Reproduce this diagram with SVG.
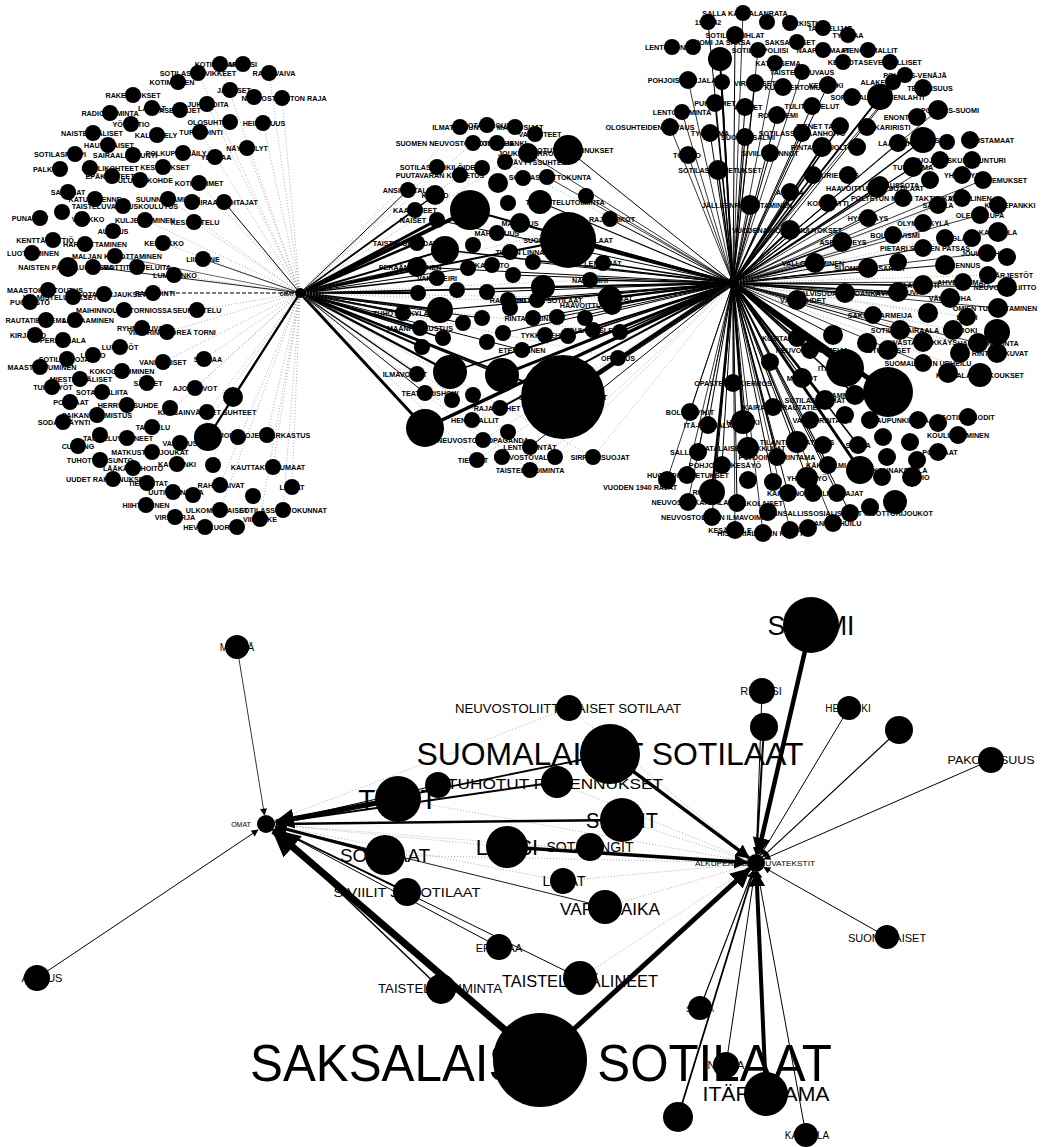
<svg xmlns="http://www.w3.org/2000/svg" width="1042" height="1147" viewBox="0 0 1042 1147">
<style>
text{font-family:"Liberation Sans",Arial,sans-serif;fill:#000;text-anchor:middle}
.s text{font-size:7.2px;font-weight:bold}
circle{fill:#000}
.e line{stroke:#000;fill:none}
.e line.d{stroke:#777;stroke-width:.6;stroke-dasharray:1 2}
</style>
<defs>
<marker id="a" viewBox="0 0 10 10" refX="9" refY="5" markerWidth="4" markerHeight="4" orient="auto" markerUnits="strokeWidth"><path d="M0,0L10,5L0,10z"/></marker>
<marker id="as" viewBox="0 0 10 10" refX="9" refY="5" markerWidth="9" markerHeight="7" orient="auto" markerUnits="userSpaceOnUse"><path d="M0,0L10,5L0,10z"/></marker>
</defs>
<rect width="1042" height="1147" fill="#fff"/>
<g class="e" id="connectors-top">
<line class="d" x1="300" y1="293" x2="220" y2="64"/><line class="d" x1="300" y1="293" x2="198" y2="73"/><line class="d" x1="300" y1="293" x2="282" y2="98"/><line class="d" x1="300" y1="293" x2="207" y2="104"/><line class="d" x1="300" y1="293" x2="200" y2="132"/><line class="d" x1="300" y1="293" x2="247" y2="148"/><line class="d" x1="300" y1="293" x2="199" y2="183"/><line class="d" x1="300" y1="293" x2="168" y2="199"/><line class="d" x1="300" y1="293" x2="194" y2="222"/><line class="d" x1="300" y1="293" x2="163" y2="243"/><line class="d" x1="300" y1="293" x2="174" y2="275"/><line class="d" x1="300" y1="293" x2="197" y2="310"/><line class="d" x1="300" y1="293" x2="167" y2="332"/><line class="d" x1="300" y1="293" x2="163" y2="362"/><line class="d" x1="300" y1="293" x2="204" y2="359"/><line class="d" x1="300" y1="293" x2="195" y2="388"/><line class="d" x1="300" y1="293" x2="207" y2="412"/><line class="d" x1="300" y1="293" x2="267" y2="435"/><line class="d" x1="300" y1="293" x2="177" y2="464"/><line class="d" x1="300" y1="293" x2="273" y2="467"/><line class="d" x1="300" y1="293" x2="220" y2="485"/><line class="d" x1="300" y1="293" x2="292" y2="487"/><line class="d" x1="300" y1="293" x2="283" y2="510"/><line class="d" x1="300" y1="293" x2="260" y2="519"/><line class="d" x1="300" y1="293" x2="220" y2="510"/><line class="d" x1="300" y1="293" x2="263" y2="123"/><line class="d" x1="300" y1="293" x2="269" y2="73"/><line class="d" x1="300" y1="293" x2="145" y2="220"/><line class="d" x1="300" y1="293" x2="152" y2="427"/>
<line x1="300" y1="293" x2="224" y2="202" stroke-width="1"/><line x1="300" y1="293" x2="203" y2="259" stroke-width=".8"/><line x1="300" y1="293" x2="93" y2="267" stroke-width=".9"/><line x1="300" y1="293" x2="153" y2="293" stroke-width="1" stroke-dasharray="4 2"/><line x1="300" y1="293" x2="233" y2="397" stroke-width="1.5"/><line x1="300" y1="293" x2="208" y2="437" stroke-width="2.2"/><line x1="300" y1="293" x2="115" y2="256" stroke-width=".6"/>
<line x1="300" y1="293" x2="470" y2="210" stroke-width="4"/><line x1="300" y1="293" x2="415" y2="210" stroke-width="1.5"/><line x1="300" y1="293" x2="437" y2="220" stroke-width="3"/><line x1="300" y1="293" x2="408" y2="190" stroke-width="1"/><line x1="300" y1="293" x2="417" y2="243" stroke-width="2.5"/><line x1="300" y1="293" x2="445" y2="250" stroke-width="2"/><line x1="300" y1="293" x2="417" y2="267" stroke-width="3"/><line x1="300" y1="293" x2="437" y2="278" stroke-width="1.5"/><line x1="300" y1="293" x2="418" y2="293" stroke-width="2"/><line x1="300" y1="293" x2="457" y2="290" stroke-width="1"/><line x1="300" y1="293" x2="403" y2="313" stroke-width="2"/><line x1="300" y1="293" x2="440" y2="310" stroke-width="2.5"/><line x1="300" y1="293" x2="420" y2="328" stroke-width="2.5"/><line x1="300" y1="293" x2="443" y2="338" stroke-width="1.5"/><line x1="300" y1="293" x2="422" y2="347" stroke-width="2"/><line x1="300" y1="293" x2="417" y2="374" stroke-width="1.5"/><line x1="300" y1="293" x2="450" y2="372" stroke-width="2.5"/><line x1="300" y1="293" x2="425" y2="428" stroke-width="3"/><line x1="300" y1="293" x2="425" y2="393" stroke-width="1"/><line x1="300" y1="293" x2="568" y2="240" stroke-width="2"/><line x1="300" y1="293" x2="563" y2="397" stroke-width="2"/><line x1="300" y1="293" x2="502" y2="375" stroke-width="1.5"/><line x1="300" y1="293" x2="435" y2="195" stroke-width="1.5"/><line x1="300" y1="293" x2="468" y2="268" stroke-width="1"/><line x1="300" y1="293" x2="482" y2="318" stroke-width="1"/><line x1="300" y1="293" x2="463" y2="323" stroke-width="1"/><line x1="300" y1="293" x2="522" y2="350" stroke-width="1"/><line x1="300" y1="293" x2="733" y2="283" stroke-width="1.5"/>
<line class="d" x1="300" y1="293" x2="460" y2="127"/><line class="d" x1="300" y1="293" x2="473" y2="143"/><line class="d" x1="300" y1="293" x2="437" y2="167"/><line class="d" x1="300" y1="293" x2="460" y2="175"/><line class="d" x1="300" y1="293" x2="505" y2="162"/><line class="d" x1="300" y1="293" x2="610" y2="219"/><line class="d" x1="300" y1="293" x2="590" y2="280"/><line class="d" x1="300" y1="293" x2="610" y2="298"/><line class="d" x1="300" y1="293" x2="612" y2="305"/><line class="d" x1="300" y1="293" x2="593" y2="330"/><line class="d" x1="300" y1="293" x2="618" y2="358"/><line class="d" x1="300" y1="293" x2="483" y2="440"/><line class="d" x1="300" y1="293" x2="477" y2="460"/><line class="d" x1="300" y1="293" x2="530" y2="470"/><line class="d" x1="300" y1="293" x2="593" y2="457"/><line class="d" x1="300" y1="293" x2="530" y2="447"/>
<line x1="733" y1="283" x2="568" y2="150" stroke-width="1"/><line x1="733" y1="283" x2="547" y2="177" stroke-width=".8"/><line x1="733" y1="283" x2="540" y2="202" stroke-width="1.2"/><line x1="733" y1="283" x2="586" y2="196" stroke-width=".8"/><line x1="733" y1="283" x2="568" y2="240" stroke-width="3"/><line x1="733" y1="283" x2="610" y2="219" stroke-width="1"/><line x1="733" y1="283" x2="603" y2="263" stroke-width="1.5"/><line x1="733" y1="283" x2="590" y2="280" stroke-width="1.5"/><line x1="733" y1="283" x2="610" y2="298" stroke-width="2.5"/><line x1="733" y1="283" x2="612" y2="305" stroke-width="2"/><line x1="733" y1="283" x2="620" y2="332" stroke-width="1.5"/><line x1="733" y1="283" x2="618" y2="358" stroke-width="2"/><line x1="733" y1="283" x2="593" y2="330" stroke-width="1.5"/><line x1="733" y1="283" x2="585" y2="318" stroke-width="1"/><line x1="733" y1="283" x2="557" y2="317" stroke-width="1"/><line x1="733" y1="283" x2="568" y2="336" stroke-width="1"/><line x1="733" y1="283" x2="563" y2="397" stroke-width="5"/><line x1="733" y1="283" x2="502" y2="375" stroke-width="3"/><line x1="733" y1="283" x2="425" y2="428" stroke-width="3.5"/><line x1="733" y1="283" x2="450" y2="372" stroke-width="1.5"/><line x1="733" y1="283" x2="470" y2="210" stroke-width="2"/><line x1="733" y1="283" x2="543" y2="287" stroke-width="2"/><line x1="733" y1="283" x2="533" y2="262" stroke-width="1"/><line x1="733" y1="283" x2="508" y2="300" stroke-width="1"/><line x1="733" y1="283" x2="537" y2="300" stroke-width="1.5"/><line x1="733" y1="283" x2="533" y2="318" stroke-width="1"/><line x1="733" y1="283" x2="503" y2="333" stroke-width="1"/><line x1="733" y1="283" x2="522" y2="350" stroke-width="1.5"/><line x1="733" y1="283" x2="500" y2="408" stroke-width="2"/><line x1="733" y1="283" x2="530" y2="447" stroke-width="1"/><line x1="733" y1="283" x2="520" y2="223" stroke-width="1"/><line x1="733" y1="283" x2="528" y2="153" stroke-width=".8"/><line x1="733" y1="283" x2="487" y2="292" stroke-width="1.2"/><line x1="733" y1="283" x2="513" y2="275" stroke-width="1"/><line x1="733" y1="283" x2="445" y2="250" stroke-width="1.5"/><line x1="733" y1="283" x2="440" y2="310" stroke-width="1.2"/><line x1="733" y1="283" x2="417" y2="267" stroke-width="1"/><line x1="733" y1="283" x2="437" y2="220" stroke-width="1"/>
<line class="d" x1="733" y1="283" x2="593" y2="457"/><line class="d" x1="733" y1="283" x2="530" y2="470"/><line class="d" x1="733" y1="283" x2="555" y2="457"/><line class="d" x1="733" y1="283" x2="483" y2="440"/><line class="d" x1="733" y1="283" x2="505" y2="162"/><line class="d" x1="733" y1="283" x2="477" y2="460"/>
<line x1="733" y1="283" x2="708" y2="22" stroke-width="1"/><line x1="733" y1="283" x2="743" y2="13" stroke-width=".8"/><line x1="733" y1="283" x2="735" y2="35" stroke-width="1"/><line x1="733" y1="283" x2="720" y2="59" stroke-width="2"/><line x1="733" y1="283" x2="758" y2="50" stroke-width=".8"/><line x1="733" y1="283" x2="688" y2="80" stroke-width=".8"/><line x1="733" y1="283" x2="722" y2="82" stroke-width="1"/><line x1="733" y1="283" x2="715" y2="103" stroke-width="1.2"/><line x1="733" y1="283" x2="682" y2="112" stroke-width=".8"/><line x1="733" y1="283" x2="670" y2="127" stroke-width=".8"/><line x1="733" y1="283" x2="710" y2="133" stroke-width="1"/><line x1="733" y1="283" x2="745" y2="137" stroke-width="1.2"/><line x1="733" y1="283" x2="688" y2="155" stroke-width=".8"/><line x1="733" y1="283" x2="718" y2="170" stroke-width="1.5"/><line x1="733" y1="283" x2="777" y2="115" stroke-width="1"/><line x1="733" y1="283" x2="745" y2="107" stroke-width="1"/><line x1="733" y1="283" x2="775" y2="63" stroke-width=".8"/><line x1="733" y1="283" x2="755" y2="83" stroke-width="1"/><line x1="733" y1="283" x2="880" y2="97" stroke-width="2"/><line x1="737" y1="285" x2="885" y2="101" stroke-width="1"/><line x1="733" y1="283" x2="802" y2="72" stroke-width=".8"/><line x1="733" y1="283" x2="828" y2="85" stroke-width="1"/><line x1="733" y1="283" x2="840" y2="126" stroke-width="1.5"/><line x1="733" y1="283" x2="822" y2="147" stroke-width="2"/><line x1="733" y1="283" x2="898" y2="143" stroke-width="1"/><line x1="733" y1="283" x2="913" y2="167" stroke-width="1.2"/><line x1="733" y1="283" x2="905" y2="75" stroke-width=".8"/><line x1="733" y1="283" x2="938" y2="110" stroke-width=".8"/><line x1="733" y1="283" x2="812" y2="106" stroke-width="1"/><line x1="733" y1="283" x2="802" y2="133" stroke-width="1"/><line x1="733" y1="283" x2="770" y2="153" stroke-width="1"/><line x1="733" y1="283" x2="813" y2="175" stroke-width="1.5"/><line x1="733" y1="283" x2="923" y2="140" stroke-width="1.5"/><line x1="733" y1="283" x2="880" y2="185" stroke-width="1"/>
<line x1="733" y1="283" x2="790" y2="192" stroke-width="1"/><line x1="733" y1="283" x2="877" y2="188" stroke-width="1.2"/><line x1="733" y1="283" x2="903" y2="198" stroke-width="1"/><line x1="733" y1="283" x2="750" y2="205" stroke-width="1.2"/><line x1="733" y1="283" x2="828" y2="203" stroke-width="1"/><line x1="733" y1="283" x2="868" y2="218" stroke-width=".8"/><line x1="733" y1="283" x2="790" y2="230" stroke-width="2"/><line x1="733" y1="283" x2="842" y2="242" stroke-width="1.5"/><line x1="733" y1="283" x2="893" y2="235" stroke-width=".8"/><line x1="733" y1="283" x2="923" y2="248" stroke-width="1"/><line x1="733" y1="283" x2="815" y2="263" stroke-width="2"/><line x1="733" y1="283" x2="868" y2="268" stroke-width="1.5"/><line x1="733" y1="283" x2="963" y2="282" stroke-width=".8"/><line x1="733" y1="283" x2="1007" y2="287" stroke-width="1"/><line x1="733" y1="283" x2="923" y2="285" stroke-width="1"/><line x1="733" y1="283" x2="898" y2="292" stroke-width="1.5"/><line x1="733" y1="283" x2="845" y2="293" stroke-width="1.5"/><line x1="733" y1="283" x2="797" y2="300" stroke-width="1.5"/><line x1="733" y1="283" x2="950" y2="298" stroke-width=".8"/><line x1="733" y1="283" x2="998" y2="308" stroke-width=".8"/><line x1="733" y1="283" x2="873" y2="315" stroke-width="1"/><line x1="733" y1="283" x2="900" y2="330" stroke-width="1"/><line x1="733" y1="283" x2="797" y2="338" stroke-width="1.5"/><line x1="733" y1="283" x2="833" y2="335" stroke-width="1"/><line x1="733" y1="283" x2="810" y2="350" stroke-width="1.5"/><line x1="733" y1="283" x2="980" y2="215" stroke-width=".8"/><line x1="733" y1="283" x2="987" y2="253" stroke-width=".8"/><line x1="733" y1="283" x2="945" y2="265" stroke-width="1"/><line x1="733" y1="283" x2="938" y2="205" stroke-width=".8"/><line x1="733" y1="283" x2="940" y2="160" stroke-width=".8"/><line x1="733" y1="283" x2="983" y2="180" stroke-width=".8"/><line x1="733" y1="283" x2="978" y2="343" stroke-width=".8"/><line x1="733" y1="283" x2="923" y2="363" stroke-width=".8"/><line x1="733" y1="283" x2="923" y2="342" stroke-width=".8"/>
<line class="d" x1="733" y1="283" x2="998" y2="232"/><line class="d" x1="733" y1="283" x2="945" y2="238"/><line class="d" x1="733" y1="283" x2="923" y2="223"/><line class="d" x1="733" y1="283" x2="962" y2="198"/><line class="d" x1="733" y1="283" x2="998" y2="205"/><line class="d" x1="733" y1="283" x2="988" y2="275"/><line class="d" x1="733" y1="283" x2="967" y2="317"/><line class="d" x1="733" y1="283" x2="953" y2="330"/><line class="d" x1="733" y1="283" x2="997" y2="353"/><line class="d" x1="733" y1="283" x2="980" y2="375"/><line class="d" x1="733" y1="283" x2="928" y2="313"/>
<line x1="733" y1="283" x2="845" y2="368" stroke-width="4"/><line x1="733" y1="283" x2="888" y2="392" stroke-width="5"/><line x1="733" y1="283" x2="860" y2="470" stroke-width="3"/><line x1="733" y1="283" x2="797" y2="442" stroke-width="1.5"/><line x1="733" y1="283" x2="825" y2="400" stroke-width="2"/><line x1="733" y1="283" x2="855" y2="395" stroke-width="1.5"/><line x1="733" y1="283" x2="802" y2="378" stroke-width="1.2"/><line x1="733" y1="283" x2="858" y2="445" stroke-width="1.5"/><line x1="733" y1="283" x2="828" y2="465" stroke-width="1.2"/>
<line x1="733" y1="283" x2="733" y2="383" stroke-width="1"/><line x1="733" y1="283" x2="773" y2="407" stroke-width="1.5"/><line x1="733" y1="283" x2="690" y2="412" stroke-width=".8"/><line x1="733" y1="283" x2="743" y2="422" stroke-width="2.5"/><line x1="733" y1="283" x2="708" y2="425" stroke-width="1"/><line x1="733" y1="283" x2="748" y2="448" stroke-width="1"/><line x1="733" y1="283" x2="698" y2="452" stroke-width=".8"/><line x1="733" y1="283" x2="777" y2="457" stroke-width="1.5"/><line x1="733" y1="283" x2="807" y2="478" stroke-width="1"/><line x1="733" y1="283" x2="722" y2="465" stroke-width="1"/><line x1="733" y1="283" x2="687" y2="475" stroke-width=".8"/><line x1="733" y1="283" x2="667" y2="480" stroke-width=".8"/><line x1="733" y1="283" x2="712" y2="492" stroke-width="2.5"/><line x1="733" y1="283" x2="788" y2="493" stroke-width="1"/><line x1="733" y1="283" x2="837" y2="493" stroke-width="1"/><line x1="733" y1="283" x2="688" y2="502" stroke-width=".8"/><line x1="733" y1="283" x2="850" y2="513" stroke-width="1"/><line x1="733" y1="283" x2="712" y2="517" stroke-width="1"/><line x1="733" y1="283" x2="763" y2="533" stroke-width=".8"/><line x1="733" y1="283" x2="833" y2="523" stroke-width=".8"/><line x1="733" y1="283" x2="773" y2="482" stroke-width="1"/><line x1="733" y1="283" x2="737" y2="503" stroke-width="1"/><line x1="733" y1="283" x2="735" y2="530" stroke-width=".8"/><line x1="733" y1="283" x2="790" y2="530" stroke-width=".8"/>
</g>
<g class="e" id="connectors-bottom">
<line class="d" x1="569" y1="708" x2="266" y2="824"/><line class="d" x1="266" y1="824" x2="756" y2="863"/><line class="d" x1="563" y1="881" x2="266" y2="824"/><line class="d" x1="507" y1="847" x2="266" y2="824"/><line class="d" x1="622" y1="820" x2="756" y2="863"/><line class="d" x1="569" y1="708" x2="756" y2="863"/><line class="d" x1="557" y1="782" x2="756" y2="863"/><line class="d" x1="563" y1="881" x2="756" y2="863"/><line class="d" x1="605" y1="907" x2="756" y2="863"/><line class="d" x1="580" y1="978" x2="756" y2="863"/><line class="d" x1="398" y1="799" x2="756" y2="863"/><line class="d" x1="385" y1="855" x2="756" y2="863"/>
<line x1="37" y1="978" x2="258" y2="830" stroke-width="1" marker-end="url(#as)"/>
<line x1="237" y1="647" x2="264.5" y2="815" stroke-width=".8" marker-end="url(#as)"/>
<line x1="398" y1="799" x2="276" y2="822" stroke-width="5" marker-end="url(#a)"/>
<line x1="622" y1="820" x2="276" y2="824" stroke-width="2.5" marker-end="url(#a)"/>
<line x1="385" y1="855" x2="276" y2="826.5" stroke-width="3" marker-end="url(#a)"/>
<line x1="557" y1="782" x2="276" y2="822.6" stroke-width="2" marker-end="url(#a)"/>
<line x1="610" y1="754" x2="276" y2="822" stroke-width="1.8"/>
<line x1="407" y1="892" x2="275" y2="828" stroke-width="1.5"/>
<line x1="499" y1="947" x2="275" y2="828" stroke-width="1"/>
<line x1="580" y1="978" x2="275" y2="828" stroke-width="1"/>
<line x1="605" y1="907" x2="275" y2="826" stroke-width=".9"/>
<line x1="441" y1="989" x2="274" y2="829" stroke-width="1.5"/>
<line x1="438" y1="785" x2="276" y2="822" stroke-width="1.2"/>
<line x1="540" y1="1060" x2="273.6" y2="830.5" stroke-width="7" marker-end="url(#a)"/>
<line x1="811" y1="625" x2="758" y2="854" stroke-width="4.5" marker-end="url(#a)"/>
<line x1="762" y1="691" x2="756.3" y2="854" stroke-width="1" marker-end="url(#as)"/>
<line x1="764" y1="727" x2="756.5" y2="854" stroke-width="2" marker-end="url(#a)"/>
<line x1="849" y1="708" x2="760.6" y2="855.3" stroke-width="1" marker-end="url(#as)"/>
<line x1="899" y1="730" x2="762.6" y2="856.9" stroke-width="1.2" marker-end="url(#as)"/>
<line x1="991" y1="760" x2="764" y2="859" stroke-width="1" marker-end="url(#as)"/>
<line x1="887" y1="937" x2="763.9" y2="867.4" stroke-width="1" marker-end="url(#as)"/>
<line x1="610" y1="754" x2="748.7" y2="857.7" stroke-width="3.5" marker-end="url(#a)"/>
<line x1="540" y1="1060" x2="749.3" y2="869" stroke-width="5" marker-end="url(#a)"/>
<line x1="507" y1="847" x2="747" y2="862.4" stroke-width="3.5" marker-end="url(#a)"/>
<line x1="700" y1="1008" x2="752.7" y2="871.4" stroke-width="1.2" marker-end="url(#as)"/>
<line x1="678" y1="1117" x2="753.4" y2="871.6" stroke-width="1.8" marker-end="url(#a)"/>
<line x1="726" y1="1065" x2="754.7" y2="871.9" stroke-width="1" marker-end="url(#as)"/>
<line x1="766" y1="1094" x2="756.4" y2="872" stroke-width="4" marker-end="url(#a)"/>
<line x1="806" y1="1135" x2="757.6" y2="871.8" stroke-width="1" marker-end="url(#as)"/>
</g>
<g class="s" id="nodes-left">
<g id="L1"><text x="220" y="67">KOTIKASARMI</text><circle cx="220" cy="64" r="8"/></g>
<g id="L2"><text x="243" y="67">MARSSI</text><circle cx="243" cy="64" r="8"/></g>
<g id="L3"><text x="274" y="76">RAHTIVAIVA</text><circle cx="269" cy="73" r="8"/></g>
<g id="L4"><text x="198" y="76">SOTILASTARVIKKEET</text><circle cx="198" cy="73" r="8"/></g>
<g id="L5"><text x="172" y="85">KOTIMAISEN</text><circle cx="178" cy="82" r="8"/></g>
<g id="L6"><text x="133" y="98">RAKENNUKSET</text><circle cx="133" cy="95" r="8"/></g>
<g id="L7"><text x="234" y="93">JAOKSET</text><circle cx="230" cy="90" r="8"/></g>
<g id="L8"><circle cx="254" cy="97" r="8"/></g>
<g id="L9"><text x="284" y="101">NEUVOSTOLIITON RAJA</text><circle cx="282" cy="98" r="8"/></g>
<g id="L10"><text x="110" y="116">RADIOTOIMINTA</text><circle cx="110" cy="113" r="8"/></g>
<g id="L11"><text x="152" y="111">LAHJAT</text><circle cx="152" cy="108" r="8"/></g>
<g id="L12"><text x="180" y="113">ASEVELJET</text><circle cx="180" cy="110" r="8"/></g>
<g id="L13"><text x="208" y="107">JUHLIJOITA</text><circle cx="207" cy="104" r="8"/></g>
<g id="L14"><text x="131" y="127">YÖVARTIO</text><circle cx="131" cy="124" r="8"/></g>
<g id="L15"><text x="212" y="125">OLOSUHTEET</text><circle cx="230" cy="122" r="8"/></g>
<g id="L16"><text x="264" y="126">HEINÄKUUS</text><circle cx="263" cy="123" r="8"/></g>
<g id="L17"><text x="92" y="136">NAISTENVÄLISET</text><circle cx="93" cy="133" r="8"/></g>
<g id="L18"><text x="156" y="138">KALASTELY</text><circle cx="157" cy="135" r="8"/></g>
<g id="L19"><text x="201" y="135">TUPAKOINTI</text><circle cx="200" cy="132" r="8"/></g>
<g id="L20"><text x="109" y="148">HAUTAJAISET</text><circle cx="108" cy="145" r="8"/></g>
<g id="L21"><text x="60" y="157">SOTILASPAPPI</text><circle cx="75" cy="154" r="8"/></g>
<g id="L22"><text x="125" y="158">SAIRAALAKAUNTI</text><circle cx="133" cy="155" r="8"/></g>
<g id="L23"><text x="176" y="156">POLKUPYÖRÄILY</text><circle cx="183" cy="153" r="8"/></g>
<g id="L24"><text x="216" y="160">YLÄMAA</text><circle cx="215" cy="157" r="8"/></g>
<g id="L25"><text x="247" y="151">NÄYTTELYT</text><circle cx="247" cy="148" r="8"/></g>
<g id="L26"><text x="49" y="172">PALKKIO</text><circle cx="60" cy="169" r="8"/></g>
<g id="L27"><text x="110" y="171">MAALIKOHTEET</text><circle cx="90" cy="168" r="8"/></g>
<g id="L28"><text x="110" y="179">EPÄKOHTEET</text><circle cx="112" cy="176" r="8"/></g>
<g id="L29"><text x="140" y="183">KOULUTUSKOHDE</text><circle cx="140" cy="180" r="8"/></g>
<g id="L30"><text x="165" y="170">KESTITYKSET</text><circle cx="163" cy="167" r="8"/></g>
<g id="L31"><text x="199" y="186">KOTIELÄIMET</text><circle cx="199" cy="183" r="8"/></g>
<g id="L32"><text x="68" y="195">SAARNAT</text><circle cx="68" cy="192" r="8"/></g>
<g id="L33"><text x="95" y="202">KATULIIKENNE</text><circle cx="95" cy="199" r="8"/></g>
<g id="L34"><text x="125" y="209">TAISTELUVALMIUSKOULUTUS</text><circle cx="123" cy="206" r="8"/></g>
<g id="L35"><text x="168" y="202">SUUNNISTAMINEN</text><circle cx="168" cy="199" r="8"/></g>
<g id="L36"><circle cx="192" cy="202" r="8"/></g>
<g id="L37"><text x="224" y="205">SAIRAANHOITAJAT</text><circle cx="224" cy="202" r="8"/></g>
<g id="L38"><text x="30" y="221">PUNAISET</text><circle cx="40" cy="218" r="8"/></g>
<g id="L39"><circle cx="62" cy="212" r="8"/></g>
<g id="L40"><text x="88" y="222">VARIKKO</text><circle cx="82" cy="219" r="8"/></g>
<g id="L41"><text x="145" y="223">KULJETTAMINEN</text><circle cx="145" cy="220" r="8"/></g>
<g id="L42"><text x="195" y="225">KESKUSTELU</text><circle cx="194" cy="222" r="8"/></g>
<g id="L43"><text x="113" y="234">AURAUS</text><circle cx="113" cy="231" r="8"/></g>
<g id="L44"><text x="45" y="243">KENTTÄKEITTIÖ</text><circle cx="53" cy="240" r="8"/></g>
<g id="L45"><text x="95" y="247">HARJOITTAMINEN</text><circle cx="85" cy="244" r="8"/></g>
<g id="L46"><text x="33" y="256">LUOTTAMINEN</text><circle cx="32" cy="253" r="8"/></g>
<g id="L47"><text x="164" y="246">KELJUKKO</text><circle cx="163" cy="243" r="8"/></g>
<g id="L48"><text x="117" y="259">MALJAN KOHOTTAMINEN</text><circle cx="115" cy="256" r="8"/></g>
<g id="L49"><text x="203" y="262">LIIKENNE</text><circle cx="203" cy="259" r="8"/></g>
<g id="L50"><text x="66" y="270">NAISTEN PALVELUKSESSA</text><circle cx="68" cy="267" r="10"/></g>
<g id="L51"><circle cx="93" cy="267" r="8"/></g>
<g id="L52"><text x="137" y="270">MOTTITAISTELUITA</text><circle cx="137" cy="267" r="8"/></g>
<g id="L53"><text x="175" y="278">LUMIHANKO</text><circle cx="174" cy="275" r="8"/></g>
<g id="L54"><text x="45" y="293">MAASTOKUNTOUTUS</text><circle cx="48" cy="290" r="8"/></g>
<g id="L55"><text x="30" y="305">PUOLUSTO</text><circle cx="30" cy="302" r="8"/></g>
<g id="L56"><text x="60" y="300">VALMISTELUTUKSET</text><circle cx="73" cy="297" r="8"/></g>
<g id="L57"><text x="112" y="297">SOTAKORJAUKSET</text><circle cx="104" cy="294" r="8"/></g>
<g id="L58"><text x="155" y="296">PARTIOINTI</text><circle cx="153" cy="293" r="8"/></g>
<g id="L59"><text x="124" y="313">MAIHINNOUSU TORNIOSSA</text><circle cx="124" cy="310" r="8"/></g>
<g id="L60"><text x="197" y="313">SEURUSTELU</text><circle cx="197" cy="310" r="8"/></g>
<g id="L61"><text x="36" y="323">RAUTATIEASEMA</text><circle cx="46" cy="320" r="8"/></g>
<g id="L62"><text x="88" y="323">LASTAAMINEN</text><circle cx="75" cy="320" r="8"/></g>
<g id="L63"><text x="142" y="331">RYHMÄKUVAT</text><circle cx="142" cy="328" r="8"/></g>
<g id="L64"><text x="172" y="335">VIIPURIN PYÖREÄ TORNI</text><circle cx="167" cy="332" r="8"/></g>
<g id="L65"><text x="28" y="338">KIRJASTO</text><circle cx="35" cy="335" r="8"/></g>
<g id="L66"><text x="63" y="343">PERÄMAALA</text><circle cx="63" cy="340" r="8"/></g>
<g id="L67"><text x="120" y="350">LUMITYÖT</text><circle cx="120" cy="347" r="8"/></g>
<g id="L68"><text x="93" y="358">LUOTO</text><circle cx="93" cy="355" r="8"/></g>
<g id="L69"><text x="66" y="362">SOTILASPOJAT</text><circle cx="67" cy="359" r="8"/></g>
<g id="L70"><text x="42" y="370">MAASTOUTUMINEN</text><circle cx="40" cy="367" r="8"/></g>
<g id="L71"><text x="122" y="374">KOKOONTUMINEN</text><circle cx="122" cy="371" r="8"/></g>
<g id="L72"><text x="163" y="365">VANKILAISET</text><circle cx="163" cy="362" r="8"/></g>
<g id="L73"><text x="208" y="362">SAIMAA</text><circle cx="204" cy="359" r="8"/></g>
<g id="L74"><text x="81" y="382">MIESTENVÄLISET</text><circle cx="80" cy="379" r="8"/></g>
<g id="L75"><text x="148" y="386">SAKSET</text><circle cx="147" cy="383" r="8"/></g>
<g id="L76"><text x="195" y="391">AJONEUVOT</text><circle cx="195" cy="388" r="8"/></g>
<g id="L77"><circle cx="233" cy="397" r="10"/></g>
<g id="L78"><text x="53" y="390">TUHOTYÖT</text><circle cx="52" cy="387" r="8"/></g>
<g id="L79"><text x="102" y="395">SOTASAALIITA</text><circle cx="102" cy="392" r="8"/></g>
<g id="L80"><text x="71" y="405">POTILAAT</text><circle cx="70" cy="402" r="8"/></g>
<g id="L81"><text x="128" y="408">HERRUUSSUHDE</text><circle cx="127" cy="405" r="8"/></g>
<g id="L82"><circle cx="170" cy="408" r="8"/></g>
<g id="L83"><text x="207" y="415">KANSAINVÄLISET SUHTEET</text><circle cx="207" cy="412" r="8"/></g>
<g id="L84"><text x="97" y="418">PAIKAN VALMISTUS</text><circle cx="97" cy="415" r="8"/></g>
<g id="L85"><text x="64" y="425">SODANKÄYNTI</text><circle cx="63" cy="422" r="8"/></g>
<g id="L86"><text x="153" y="430">TAISTELU</text><circle cx="152" cy="427" r="8"/></g>
<g id="L87"><circle cx="208" cy="437" r="14"/></g>
<g id="L88"><circle cx="238" cy="437" r="8"/></g>
<g id="L89"><text x="265" y="438">JOUKKOJEN TARKASTUS</text><circle cx="267" cy="435" r="8"/></g>
<g id="L90"><circle cx="100" cy="435" r="8"/></g>
<g id="L91"><text x="118" y="441">TAISTELUVÄLINEET</text><circle cx="127" cy="438" r="8"/></g>
<g id="L92"><text x="78" y="449">CURLING</text><circle cx="78" cy="446" r="8"/></g>
<g id="L93"><text x="180" y="446">VALISTUS</text><circle cx="180" cy="443" r="8"/></g>
<g id="L94"><text x="150" y="455">MATKUSTAJAJOUKAT</text><circle cx="152" cy="452" r="8"/></g>
<g id="L95"><text x="100" y="463">TUHOTTU ASUNTO</text><circle cx="100" cy="460" r="8"/></g>
<g id="L96"><text x="133" y="471">LÄÄKÄRINHOITO</text><circle cx="133" cy="468" r="8"/></g>
<g id="L97"><text x="177" y="467">KAUPUNKI</text><circle cx="177" cy="464" r="8"/></g>
<g id="L98"><circle cx="213" cy="465" r="8"/></g>
<g id="L99"><text x="268" y="470">KAUTTAKULKUMAAT</text><circle cx="273" cy="467" r="8"/></g>
<g id="L100"><text x="107" y="482">UUDET RAKENNUKSET</text><circle cx="113" cy="479" r="8"/></g>
<g id="L101"><text x="148" y="486">TIEKARTAT</text><circle cx="147" cy="483" r="8"/></g>
<g id="L102"><text x="176" y="495">UUTISKANETTA</text><circle cx="173" cy="492" r="8"/></g>
<g id="L103"><circle cx="193" cy="495" r="8"/></g>
<g id="L104"><text x="221" y="488">RAHTILAIVAT</text><circle cx="220" cy="485" r="8"/></g>
<g id="L105"><circle cx="253" cy="496" r="8"/></g>
<g id="L106"><text x="292" y="490">LAIVAT</text><circle cx="292" cy="487" r="8"/></g>
<g id="L107"><text x="146" y="508">HIIHTÄMINEN</text><circle cx="146" cy="505" r="8"/></g>
<g id="L108"><text x="217" y="513">ULKOMAALAISET</text><circle cx="220" cy="510" r="8"/></g>
<g id="L109"><text x="283" y="513">SOTILASSOITTOKUNNAT</text><circle cx="283" cy="510" r="8"/></g>
<g id="L110"><text x="175" y="520">VIRSIKIRJA</text><circle cx="175" cy="517" r="8"/></g>
<g id="L111"><text x="214" y="530">HEVOSKUORMAT</text><circle cx="205" cy="527" r="8"/></g>
<g id="L112"><circle cx="237" cy="527" r="8"/></g>
<g id="L113"><text x="260" y="522">VIIHDYKE</text><circle cx="260" cy="519" r="8"/></g>
<g id="LH"><text x="287" y="296" style="font-size:5px">OMAT</text><circle cx="300" cy="293" r="5"/></g>
</g>
<g class="s" id="nodes-middle">
<g id="M1"><text x="460" y="130">ILMATORJUNTA</text><circle cx="460" cy="127" r="8"/></g>
<g id="M2"><text x="487" y="128">SOTATALOUS</text><circle cx="487" cy="125" r="8"/></g>
<g id="M3"><text x="520" y="130">MAKUUSIJAT</text><circle cx="515" cy="127" r="8"/></g>
<g id="M4"><text x="540" y="137">VARUSTEET</text><circle cx="535" cy="134" r="8"/></g>
<g id="M6"><text x="455" y="146">SUOMEN NEUVOSTOLIITON RAJA</text><circle cx="473" cy="143" r="8"/></g>
<g id="M7"><text x="500" y="146">SOTILASHENKI</text><circle cx="497" cy="143" r="8"/></g>
<g id="M8"><text x="528" y="156">JOUKKOSIIRROT</text><circle cx="528" cy="153" r="10"/></g>
<g id="M5"><text x="568" y="153">TUHOTUT RAKENNUKSET</text><circle cx="568" cy="150" r="15"/></g>
<g id="M9"><text x="440" y="170">SOTILASHENKILÖIDEN</text><circle cx="437" cy="167" r="8"/></g>
<g id="M10"><text x="440" y="178">PUUTAVARAN KULJETUS</text><circle cx="460" cy="175" r="8"/></g>
<g id="M11"><circle cx="482" cy="168" r="8"/></g>
<g id="M12"><text x="535" y="165">YSTÄVYYSSUHTEET</text><circle cx="505" cy="162" r="8"/></g>
<g id="M13"><circle cx="523" cy="178" r="8"/></g>
<g id="M14"><text x="550" y="180">SOTILASSOITTOKUNTA</text><circle cx="547" cy="177" r="8"/></g>
<g id="M15"><text x="408" y="193">ANSIOMITALIT</text><circle cx="408" cy="190" r="8"/></g>
<g id="M16"><text x="435" y="198">KUHMO</text><circle cx="435" cy="195" r="10"/></g>
<g id="M18"><circle cx="498" cy="183" r="10"/></g>
<g id="M19"><circle cx="508" cy="203" r="8"/></g>
<g id="M20"><text x="565" y="205">TIEDUSTELUTOIMINTA</text><circle cx="540" cy="202" r="12"/></g>
<g id="M21"><circle cx="586" cy="196" r="8"/></g>
<g id="M23"><text x="415" y="213">KAATUNEET</text><circle cx="415" cy="210" r="8"/></g>
<g id="M24"><text x="413" y="223">NAISET</text><circle cx="437" cy="220" r="8"/></g>
<g id="M17"><text x="470" y="213">TYKIT</text><circle cx="470" cy="210" r="20"/></g>
<g id="M25"><text x="520" y="226">MAJOITUS</text><circle cx="520" cy="223" r="10"/></g>
<g id="M26"><text x="612" y="222">RAJAPAIKOT</text><circle cx="610" cy="219" r="8"/></g>
<g id="M27"><text x="497" y="236">MAHTAVUUS</text><circle cx="497" cy="233" r="8"/></g>
<g id="M22"><text x="568" y="243">SUOMALAISET SOTILAAT</text><circle cx="568" cy="240" r="28"/></g>
<g id="M28"><circle cx="473" cy="245" r="8"/></g>
<g id="M29"><circle cx="445" cy="250" r="14"/></g>
<g id="M30"><text x="520" y="255">TURUN LINNA</text><circle cx="510" cy="252" r="8"/></g>
<g id="M31"><circle cx="533" cy="262" r="8"/></g>
<g id="M32"><text x="603" y="266">LENTÄJÄT</text><circle cx="603" cy="263" r="8"/></g>
<g id="M33"><text x="405" y="246">TAISTELUHAUDAT</text><circle cx="417" cy="243" r="8"/></g>
<g id="M34"><text x="410" y="270">PERÄÄNTYMINEN</text><circle cx="417" cy="267" r="10"/></g>
<g id="M35"><text x="437" y="281">VANKILEIRI</text><circle cx="437" cy="278" r="8"/></g>
<g id="M36"><circle cx="468" cy="268" r="8"/></g>
<g id="M37"><text x="492" y="268">KALUSTO</text><circle cx="492" cy="265" r="8"/></g>
<g id="M38"><circle cx="513" cy="275" r="8"/></g>
<g id="M39"><circle cx="543" cy="287" r="12"/></g>
<g id="M40"><text x="590" y="283">NAPAPIIRI</text><circle cx="590" cy="280" r="8"/></g>
<g id="M41"><text x="615" y="301">SOTILAAT</text><circle cx="610" cy="298" r="12"/></g>
<g id="M42"><circle cx="418" cy="293" r="8"/></g>
<g id="M43"><circle cx="457" cy="290" r="8"/></g>
<g id="M44"><circle cx="487" cy="292" r="8"/></g>
<g id="M45"><text x="508" y="303">RAJAJOKI</text><circle cx="508" cy="300" r="8"/></g>
<g id="M46"><text x="545" y="303">SIVIILIT JA SOTILAAT</text><circle cx="537" cy="300" r="8"/></g>
<g id="M48"><text x="403" y="316">TUHOTUT KYLÄT</text><circle cx="403" cy="313" r="8"/></g>
<g id="M49"><circle cx="440" cy="310" r="13"/></g>
<g id="M50"><circle cx="482" cy="318" r="8"/></g>
<g id="M51"><circle cx="510" cy="308" r="8"/></g>
<g id="M52"><text x="533" y="321">RINTAMALINJAT</text><circle cx="533" cy="318" r="8"/></g>
<g id="M53"><circle cx="557" cy="317" r="8"/></g>
<g id="M54"><circle cx="585" cy="318" r="8"/></g>
<g id="M55"><text x="590" y="308">HAAVOITTUNEET</text><circle cx="612" cy="305" r="10"/></g>
<g id="M56"><text x="420" y="331">MAANPUOLUSTUS</text><circle cx="420" cy="328" r="8"/></g>
<g id="M57"><circle cx="443" cy="338" r="8"/></g>
<g id="M58"><circle cx="463" cy="323" r="8"/></g>
<g id="M59"><circle cx="487" cy="342" r="8"/></g>
<g id="M60"><circle cx="503" cy="333" r="8"/></g>
<g id="M61"><text x="545" y="338">TYKKIMIEHET</text><circle cx="545" cy="335" r="8"/></g>
<g id="M62"><circle cx="568" cy="336" r="8"/></g>
<g id="M63"><text x="593" y="333">KOULUTUSLEIRI</text><circle cx="593" cy="330" r="8"/></g>
<g id="M64"><circle cx="620" cy="332" r="8"/></g>
<g id="M65"><circle cx="422" cy="347" r="8"/></g>
<g id="M66"><text x="522" y="353">ETENEMINEN</text><circle cx="522" cy="350" r="8"/></g>
<g id="M67"><text x="618" y="361">OPASTUS</text><circle cx="618" cy="358" r="8"/></g>
<g id="M68"><text x="405" y="377">ILMAVOIMAT</text><circle cx="417" cy="374" r="8"/></g>
<g id="M69"><circle cx="450" cy="372" r="17"/></g>
<g id="M70"><circle cx="502" cy="375" r="17"/></g>
<g id="M72"><text x="430" y="396">TEATTERISHOW</text><circle cx="425" cy="393" r="8"/></g>
<g id="M73"><circle cx="452" cy="400" r="8"/></g>
<g id="M74"><circle cx="473" cy="395" r="8"/></g>
<g id="M75"><text x="497" y="411">RAJAMIEHET</text><circle cx="500" cy="408" r="8"/></g>
<g id="M71"><text x="563" y="400">SAKSALAISET SOTILAAT</text><circle cx="563" cy="397" r="42"/></g>
<g id="M76"><circle cx="425" cy="428" r="19"/></g>
<g id="M77"><text x="475" y="423">HENKIKALLIT</text><circle cx="472" cy="420" r="8"/></g>
<g id="M78"><circle cx="508" cy="432" r="8"/></g>
<g id="M79"><text x="483" y="443">NEUVOSTOPROPAGANDA</text><circle cx="483" cy="440" r="8"/></g>
<g id="M80"><text x="530" y="450">LENTOKENTÄT</text><circle cx="530" cy="447" r="8"/></g>
<g id="M81"><text x="473" y="463">TIETYÖT</text><circle cx="477" cy="460" r="8"/></g>
<g id="M82"><text x="525" y="460">NEUVOSTOVALTA</text><circle cx="502" cy="457" r="8"/></g>
<g id="M83"><circle cx="555" cy="457" r="8"/></g>
<g id="M84"><text x="600" y="460">SIRPALESUOJAT</text><circle cx="593" cy="457" r="8"/></g>
<g id="M85"><text x="530" y="473">TAISTELUTOIMINTA</text><circle cx="530" cy="470" r="8"/></g>
</g>
<g class="s" id="nodes-right">
<g id="R1"><text x="708" y="25">1941-42</text><circle cx="708" cy="22" r="8"/></g>
<g id="R2"><text x="745" y="16">SALLA KANDALANRATA</text><circle cx="743" cy="13" r="8"/></g>
<g id="R3"><circle cx="767" cy="22" r="8"/></g>
<g id="R4"><text x="805" y="26">TARKISTUS</text><circle cx="790" cy="23" r="8"/></g>
<g id="R5"><text x="830" y="31">TAISTELIJAT</text><circle cx="823" cy="28" r="8"/></g>
<g id="R6"><text x="735" y="38">SOTILASJUHLAT</text><circle cx="735" cy="35" r="9"/></g>
<g id="R9"><text x="672" y="50">LENTOKONEET</text><circle cx="672" cy="47" r="8"/></g>
<g id="R8"><circle cx="693" cy="47" r="8"/></g>
<g id="R7"><text x="720" y="45">SUOMI JA SAKSA</text><circle cx="720" cy="59" r="12"/></g>
<g id="R10"><text x="760" y="53">SOTILASPOLIISI</text><circle cx="758" cy="50" r="8"/></g>
<g id="R11"><text x="790" y="45">SAKSALAISET</text><circle cx="797" cy="42" r="8"/></g>
<g id="R12"><text x="848" y="38">TYÖMAA</text><circle cx="848" cy="35" r="8"/></g>
<g id="R14"><text x="823" y="53">NAAPURIMAAT</text><circle cx="823" cy="50" r="8"/></g>
<g id="R13"><text x="870" y="53">PIENOISMALLIT</text><circle cx="868" cy="50" r="8"/></g>
<g id="R15"><text x="843" y="65">KERHOT</text><circle cx="843" cy="62" r="8"/></g>
<g id="R16"><text x="890" y="65">ASEVELVOLLISET</text><circle cx="890" cy="62" r="8"/></g>
<g id="R17"><text x="778" y="66">KATUASEMA</text><circle cx="775" cy="63" r="8"/></g>
<g id="R18"><text x="802" y="75">TAISTELUKUVAUS</text><circle cx="802" cy="72" r="8"/></g>
<g id="R19"><text x="682" y="83">POHJOIS-KARJALA</text><circle cx="688" cy="80" r="9"/></g>
<g id="R20"><circle cx="722" cy="82" r="8"/></g>
<g id="R21"><text x="755" y="86">VIRALLISET</text><circle cx="755" cy="83" r="9"/></g>
<g id="R22"><text x="795" y="90">KUVAKERTOMUS</text><circle cx="783" cy="87" r="9"/></g>
<g id="R23"><text x="826" y="88">KEMIJOKI</text><circle cx="828" cy="85" r="9"/></g>
<g id="R26"><text x="880" y="85">ALAKERTA</text><circle cx="893" cy="82" r="8"/></g>
<g id="R27"><text x="915" y="78">POHJOIS-VENÄJÄ</text><circle cx="905" cy="75" r="8"/></g>
<g id="R24"><text x="852" y="100">SORTAVALA</text><circle cx="852" cy="97" r="9"/></g>
<g id="R25"><text x="898" y="100">SUOMENLAHTI</text><circle cx="880" cy="97" r="13"/></g>
<g id="R28"><text x="930" y="91">TEOLLISUUS</text><circle cx="923" cy="88" r="9"/></g>
<g id="R29"><text x="950" y="113">POHJOIS-SUOMI</text><circle cx="938" cy="110" r="10"/></g>
<g id="R30"><text x="905" y="120">ENONTEKIÖ</text><circle cx="917" cy="117" r="9"/></g>
<g id="R31"><text x="822" y="129">PIENET TALOT</text><circle cx="840" cy="126" r="9"/></g>
<g id="R32"><text x="885" y="130">SANKARIRISTI</text><circle cx="867" cy="127" r="9"/></g>
<g id="R33"><text x="682" y="115">LENTOTOIMINTA</text><circle cx="682" cy="112" r="8"/></g>
<g id="R34"><text x="715" y="106">PUHELIMET</text><circle cx="715" cy="103" r="9"/></g>
<g id="R35"><text x="748" y="110">ALUEET</text><circle cx="745" cy="107" r="9"/></g>
<g id="R36"><text x="778" y="118">ROVANIEMI</text><circle cx="777" cy="115" r="9"/></g>
<g id="R37"><text x="812" y="109">TULITAISTELUT</text><circle cx="812" cy="106" r="9"/></g>
<g id="R38"><text x="650" y="130">OLOSUHTEIDEN KUVAUS</text><circle cx="670" cy="127" r="9"/></g>
<g id="R39"><text x="710" y="136">TYÖVOIMA</text><circle cx="710" cy="133" r="9"/></g>
<g id="R40"><text x="748" y="140">SUOMUSSALMI</text><circle cx="745" cy="137" r="9"/></g>
<g id="R41"><text x="802" y="136">SOTILASSAIRAANHOITO</text><circle cx="802" cy="133" r="9"/></g>
<g id="R42"><text x="822" y="150">RINTAMAHUOLTO</text><circle cx="822" cy="147" r="10"/></g>
<g id="R43"><circle cx="857" cy="147" r="9"/></g>
<g id="R44"><text x="898" y="146">LAATOKKA</text><circle cx="898" cy="143" r="9"/></g>
<g id="R45"><text x="930" y="143">LÄHETYSTÖT</text><circle cx="923" cy="140" r="13"/></g>
<g id="R46"><circle cx="947" cy="142" r="8"/></g>
<g id="R47"><text x="990" y="143">TAUSTAMAAT</text><circle cx="970" cy="140" r="9"/></g>
<g id="R48"><text x="687" y="158">TORNIO</text><circle cx="688" cy="155" r="9"/></g>
<g id="R49"><text x="720" y="173">SOTILASKULJETUKSET</text><circle cx="718" cy="170" r="10"/></g>
<g id="R50"><text x="770" y="156">SIVIILIASUNNOT</text><circle cx="770" cy="153" r="9"/></g>
<g id="R51"><text x="835" y="178">SUURIESITYS</text><circle cx="813" cy="175" r="9"/></g>
<g id="R52"><circle cx="848" cy="175" r="9"/></g>
<g id="R53"><text x="895" y="188">VAPAUSSOTA</text><circle cx="880" cy="185" r="9"/></g>
<g id="R54"><text x="913" y="170">TUNNELMA</text><circle cx="913" cy="167" r="10"/></g>
<g id="R55"><text x="945" y="163">SUOJELUSKUNTA</text><circle cx="940" cy="160" r="9"/></g>
<g id="R56"><text x="990" y="163">TUNTURI</text><circle cx="972" cy="160" r="9"/></g>
<g id="R57"><circle cx="930" cy="180" r="9"/></g>
<g id="R58"><text x="962" y="178">YHDISTYS</text><circle cx="962" cy="175" r="9"/></g>
<g id="R59"><text x="1005" y="183">ELEMUKSET</text><circle cx="983" cy="180" r="9"/></g>
<g id="R60"><text x="790" y="195">ARMILA</text><circle cx="790" cy="192" r="9"/></g>
<g id="R61"><text x="875" y="191">HAAVOITTUNEET SOTILAAT</text><circle cx="877" cy="188" r="10"/></g>
<g id="R62"><text x="902" y="201">POLTETUN MAAN TAKTIIKKA</text><circle cx="903" cy="198" r="9"/></g>
<g id="R63"><text x="970" y="201">VIHOLLINEN</text><circle cx="962" cy="198" r="9"/></g>
<g id="R64"><text x="747" y="208">JÄLLEENRAKENTAMINEN</text><circle cx="750" cy="205" r="10"/></g>
<g id="R65"><text x="828" y="206">KONSERTTI</text><circle cx="828" cy="203" r="9"/></g>
<g id="R66"><text x="938" y="208">SÄÄTILA</text><circle cx="938" cy="205" r="9"/></g>
<g id="R67"><text x="1010" y="208">KALLEPANKKI</text><circle cx="998" cy="205" r="9"/></g>
<g id="R68"><text x="980" y="218">OLESKELUPA</text><circle cx="980" cy="215" r="9"/></g>
<g id="R69"><text x="868" y="221">HYÖKKÄYS</text><circle cx="868" cy="218" r="9"/></g>
<g id="R70"><text x="923" y="226">OLYMPIAKYLÄ</text><circle cx="923" cy="223" r="9"/></g>
<g id="R71"><text x="787" y="233">VUODENAIKOJEN MUUTOKSET</text><circle cx="790" cy="230" r="10"/></g>
<g id="R72"><text x="895" y="238">BOLSHEVISMI</text><circle cx="893" cy="235" r="9"/></g>
<g id="R73"><text x="843" y="245">ASEVELJEYS</text><circle cx="842" cy="242" r="10"/></g>
<g id="R74"><text x="960" y="241">ENGLANTI</text><circle cx="945" cy="238" r="9"/></g>
<g id="R75"><circle cx="972" cy="238" r="9"/></g>
<g id="R76"><text x="998" y="235">KALEVALA</text><circle cx="998" cy="232" r="10"/></g>
<g id="R77"><text x="925" y="251">PIETARI SUUREN PATSAS</text><circle cx="923" cy="248" r="9"/></g>
<g id="R78"><text x="987" y="256">JOULUJUHLAT</text><circle cx="987" cy="253" r="9"/></g>
<g id="R79"><circle cx="1007" cy="257" r="9"/></g>
<g id="R80"><text x="813" y="266">VALLOITTAMINEN</text><circle cx="815" cy="263" r="10"/></g>
<g id="R81"><text x="870" y="271">SUOMEN KASARMIT</text><circle cx="868" cy="268" r="10"/></g>
<g id="R82"><circle cx="898" cy="262" r="9"/></g>
<g id="R83"><text x="960" y="268">RAKENNUS</text><circle cx="945" cy="265" r="10"/></g>
<g id="R84"><text x="963" y="285">AHVENANMAA</text><circle cx="963" cy="282" r="9"/></g>
<g id="R85"><text x="1012" y="278">JÄRJESTÖT</text><circle cx="988" cy="275" r="9"/></g>
<g id="R86"><text x="1005" y="290">NEUVOSTOLIITTO</text><circle cx="1007" cy="287" r="10"/></g>
<g id="R87"><text x="918" y="288">NAAMIOINTI</text><circle cx="923" cy="285" r="10"/></g>
<g id="R88"><text x="900" y="295">MUOTOKUVAT</text><circle cx="898" cy="292" r="10"/></g>
<g id="R89"><text x="847" y="296">TALVISODAN SODANKÄYNTI</text><circle cx="845" cy="293" r="10"/></g>
<g id="R90"><text x="803" y="303">VÄLISUHDET</text><circle cx="797" cy="300" r="10"/></g>
<g id="R91"><text x="950" y="301">VÄLIRAUHA</text><circle cx="950" cy="298" r="10"/></g>
<g id="R92"><text x="995" y="311">OMIEN TUNNISTAMINEN</text><circle cx="998" cy="308" r="10"/></g>
<g id="R93"><text x="880" y="318">SAKSAN ARMEIJA</text><circle cx="873" cy="315" r="9"/></g>
<g id="R94"><circle cx="928" cy="313" r="10"/></g>
<g id="R95"><text x="967" y="320">LAPPI</text><circle cx="967" cy="317" r="9"/></g>
<g id="R96"><text x="905" y="333">SOTILASSAIRAALA</text><circle cx="900" cy="330" r="10"/></g>
<g id="R97"><text x="960" y="333">KYMIJOKI</text><circle cx="953" cy="330" r="10"/></g>
<g id="R98"><circle cx="997" cy="332" r="13"/></g>
<g id="R99"><text x="785" y="341">KOTITALOUS</text><circle cx="797" cy="338" r="9"/></g>
<g id="R100"><circle cx="833" cy="335" r="10"/></g>
<g id="R101"><circle cx="867" cy="343" r="10"/></g>
<g id="R102"><text x="888" y="353">ISTUTUKSET</text><circle cx="888" cy="350" r="10"/></g>
<g id="R103"><text x="925" y="345">VASTAHYÖKKÄYS</text><circle cx="923" cy="342" r="10"/></g>
<g id="R104"><text x="988" y="346">HAUTAANSIUNTA</text><circle cx="978" cy="343" r="10"/></g>
<g id="R105"><circle cx="960" cy="353" r="10"/></g>
<g id="R106"><text x="1000" y="356">RINTAMAKUVAT</text><circle cx="997" cy="353" r="10"/></g>
<g id="R107"><text x="812" y="353">NEUVOSTOARMEIJA</text><circle cx="810" cy="350" r="9"/></g>
<g id="R109"><circle cx="770" cy="362" r="9"/></g>
<g id="R110"><text x="928" y="366">SUOMALAISEN URHEILU</text><circle cx="923" cy="363" r="9"/></g>
<g id="R111"><circle cx="948" cy="373" r="10"/></g>
<g id="R112"><text x="980" y="378">KANSALAISKOKOUKSET</text><circle cx="980" cy="375" r="12"/></g>
<g id="R108"><text x="840" y="371">ITÄRINTAMA</text><circle cx="845" cy="368" r="19"/></g>
<g id="R114"><text x="802" y="381">MUSEOT</text><circle cx="802" cy="378" r="10"/></g>
<g id="R115"><text x="733" y="386">OPASTETTU KIERROS</text><circle cx="733" cy="383" r="9"/></g>
<g id="R117"><text x="815" y="403">SOTILASASEMAT</text><circle cx="825" cy="400" r="10"/></g>
<g id="R116"><text x="860" y="398">AMMUSASEMAT</text><circle cx="855" cy="395" r="10"/></g>
<g id="R113"><text x="888" y="395">SUOMI</text><circle cx="888" cy="392" r="25"/></g>
<g id="R118"><text x="780" y="410">KAIRALAN RAUTATIE</text><circle cx="773" cy="407" r="9"/></g>
<g id="R119"><text x="690" y="415">BOLSHEVIKIT</text><circle cx="690" cy="412" r="9"/></g>
<g id="R120"><text x="743" y="425">HELSINKI</text><circle cx="743" cy="422" r="12"/></g>
<g id="R121"><text x="708" y="428">ITÄ-KARJALA</text><circle cx="708" cy="425" r="9"/></g>
<g id="R122"><text x="822" y="423">VARTIORINTAMA</text><circle cx="810" cy="420" r="9"/></g>
<g id="R123"><circle cx="845" cy="415" r="9"/></g>
<g id="R124"><text x="900" y="423">KAUPUNKIKUVA</text><circle cx="870" cy="420" r="9"/></g>
<g id="R125"><circle cx="918" cy="420" r="9"/></g>
<g id="R126"><circle cx="938" cy="423" r="9"/></g>
<g id="R127"><text x="968" y="420">SOTILASKODIT</text><circle cx="968" cy="417" r="9"/></g>
<g id="R128"><text x="797" y="445">TILANTEENKATSAUS</text><circle cx="797" cy="442" r="11"/></g>
<g id="R129"><circle cx="823" cy="445" r="9"/></g>
<g id="R130"><text x="742" y="451">MATALAISET KUKKULAT</text><circle cx="748" cy="448" r="11"/></g>
<g id="R131"><text x="682" y="455">SALLA</text><circle cx="698" cy="452" r="9"/></g>
<g id="R132"><text x="858" y="448">SAKSA</text><circle cx="858" cy="445" r="9"/></g>
<g id="R133"><circle cx="883" cy="437" r="9"/></g>
<g id="R134"><circle cx="910" cy="442" r="9"/></g>
<g id="R135"><text x="958" y="438">KOULUTTAMINEN</text><circle cx="958" cy="435" r="9"/></g>
<g id="R136"><text x="777" y="460">POHJOINEN RINTAMA</text><circle cx="777" cy="457" r="9"/></g>
<g id="R137"><text x="826" y="468">KÄKISALMI</text><circle cx="828" cy="465" r="9"/></g>
<g id="R139"><circle cx="887" cy="457" r="9"/></g>
<g id="R140"><circle cx="917" cy="460" r="9"/></g>
<g id="R141"><text x="940" y="455">POTILAAT</text><circle cx="938" cy="452" r="9"/></g>
<g id="R138"><text x="900" y="473">KANNAKSELLA</text><circle cx="860" cy="470" r="14"/></g>
<g id="R142"><circle cx="882" cy="477" r="9"/></g>
<g id="R143"><text x="918" y="480">RADIO</text><circle cx="912" cy="477" r="10"/></g>
<g id="R144"><text x="807" y="481">YHTEISTYÖ</text><circle cx="807" cy="478" r="11"/></g>
<g id="R145"><circle cx="773" cy="482" r="9"/></g>
<g id="R146"><circle cx="748" cy="480" r="9"/></g>
<g id="R147"><text x="725" y="468">POHJOLAN KESÄYÖ</text><circle cx="722" cy="465" r="9"/></g>
<g id="R148"><text x="688" y="478">HUOLTOKULJETUKSET</text><circle cx="687" cy="475" r="9"/></g>
<g id="R149"><text x="640" y="490">VUODEN 1940 RAJAT</text><circle cx="667" cy="480" r="9"/></g>
<g id="R150"><text x="706" y="495">RUOTSI</text><circle cx="712" cy="492" r="13"/></g>
<g id="R151"><text x="788" y="496">KAIVANNOT</text><circle cx="788" cy="493" r="9"/></g>
<g id="R152"><circle cx="813" cy="493" r="9"/></g>
<g id="R153"><text x="835" y="496">SIVIILIHOITAJAT</text><circle cx="837" cy="493" r="9"/></g>
<g id="R154"><text x="690" y="505">NEUVOSTO-KARJALA</text><circle cx="688" cy="502" r="9"/></g>
<g id="R155"><text x="760" y="506">PAKOLAISET</text><circle cx="737" cy="503" r="9"/></g>
<g id="R156"><circle cx="768" cy="512" r="9"/></g>
<g id="R157"><text x="850" y="516">KANSALLISSOSIALISTISET MOOTTORIJOUKOT</text><circle cx="850" cy="513" r="9"/></g>
<g id="R158"><circle cx="870" cy="507" r="9"/></g>
<g id="R159"><circle cx="895" cy="502" r="12"/></g>
<g id="R160"><text x="716" y="520">NEUVOSTOLIITON ILMAVOIMAT</text><circle cx="712" cy="517" r="9"/></g>
<g id="R161"><text x="835" y="526">KANSANHUILU</text><circle cx="833" cy="523" r="9"/></g>
<g id="R162"><circle cx="808" cy="528" r="9"/></g>
<g id="R163"><circle cx="790" cy="530" r="9"/></g>
<g id="R164"><text x="763" y="536">HISTORIALLINEN KENTTÄ</text><circle cx="763" cy="533" r="9"/></g>
<g id="R165"><text x="730" y="533">KESÄHELLE</text><circle cx="735" cy="530" r="9"/></g>
<g id="RH"><text x="733" y="287" style="font-size:5px">ALKUPERÄISET KUVATEKSTIT</text><circle cx="733" cy="283" r="6"/></g>
</g>
<g id="nodes-bottom">
<g id="b-metsa"><text x="237" y="651" font-size="10">METSÄ</text><circle cx="237" cy="647" r="12"/></g>
<g id="b-omat"><text x="241" y="827" font-size="7">OMAT</text><circle cx="266" cy="824" r="9"/></g>
<g id="b-ammus"><text x="42" y="982" font-size="11">AMMUS</text><circle cx="37" cy="978" r="13"/></g>
<g id="b-neuvosto"><text x="568" y="713" font-size="12" textLength="226" lengthAdjust="spacingAndGlyphs">NEUVOSTOLIITTOLAISET SOTILAAT</text><circle cx="569" cy="708" r="13"/></g>
<g id="b-suomsot"><text x="610" y="765" font-size="31" textLength="387" lengthAdjust="spacingAndGlyphs">SUOMALAISET SOTILAAT</text><circle cx="610" cy="754" r="30"/></g>
<g id="b-tykit"><text x="398" y="809" font-size="28">TYKIT</text><circle cx="398" cy="799" r="23"/></g>
<g id="b-n1"><circle cx="438" cy="785" r="13"/></g>
<g id="b-tuhotut"><text x="555" y="789" font-size="15" textLength="216" lengthAdjust="spacingAndGlyphs">TUHOTUT RAKENNUKSET</text><circle cx="557" cy="782" r="16"/></g>
<g id="b-siviilit"><text x="622" y="828" font-size="22" textLength="72" lengthAdjust="spacingAndGlyphs">SIVIILIT</text><circle cx="622" cy="820" r="22"/></g>
<g id="b-lapsi"><text x="507" y="855" font-size="22">LAPSI</text><circle cx="507" cy="847" r="21"/></g>
<g id="b-sotavangit"><text x="590" y="852" font-size="14">SOTAVANGIT</text><circle cx="590" cy="847" r="14"/></g>
<g id="b-sotilaat"><text x="385" y="862" font-size="18" textLength="90" lengthAdjust="spacingAndGlyphs">SOTILAAT</text><circle cx="385" cy="855" r="20"/></g>
<g id="b-lotat"><text x="564" y="886" font-size="14">LOTAT</text><circle cx="563" cy="881" r="13"/></g>
<g id="b-sjs"><text x="407" y="897" font-size="13" textLength="147" lengthAdjust="spacingAndGlyphs">SIVIILIT JA SOTILAAT</text><circle cx="407" cy="892" r="14"/></g>
<g id="b-vapaa"><text x="610" y="915" font-size="17" textLength="100" lengthAdjust="spacingAndGlyphs">VAPAA-AIKA</text><circle cx="605" cy="907" r="17"/></g>
<g id="b-eramaa"><text x="499" y="952" font-size="11">ERÄMAA</text><circle cx="499" cy="947" r="13"/></g>
<g id="b-tvalineet"><text x="580" y="987" font-size="16" textLength="156" lengthAdjust="spacingAndGlyphs">TAISTELUVÄLINEET</text><circle cx="580" cy="978" r="17"/></g>
<g id="b-ttoiminta"><text x="440" y="993" font-size="12" textLength="124" lengthAdjust="spacingAndGlyphs">TAISTELUTOIMINTA</text><circle cx="441" cy="989" r="15"/></g>
<g id="b-saksot"><text x="541" y="1081" font-size="52" textLength="582" lengthAdjust="spacingAndGlyphs">SAKSALAISET SOTILAAT</text><circle cx="540" cy="1060" r="47"/></g>
<g id="b-suomi"><text x="811" y="635" font-size="27" textLength="87" lengthAdjust="spacingAndGlyphs">SUOMI</text><circle cx="811" cy="625" r="28"/></g>
<g id="b-ruotsi"><text x="761" y="695" font-size="11">RUOTSI</text><circle cx="762" cy="691" r="13"/></g>
<g id="b-n2"><circle cx="764" cy="727" r="14"/></g>
<g id="b-helsinki"><text x="848" y="712" font-size="10">HELSINKI</text><circle cx="849" cy="708" r="12"/></g>
<g id="b-n3"><circle cx="899" cy="730" r="14"/></g>
<g id="b-pako"><text x="991" y="764" font-size="11" textLength="87" lengthAdjust="spacingAndGlyphs">PAKOLAISUUS</text><circle cx="991" cy="760" r="13"/></g>
<g id="b-hub"><text x="755" y="866" font-size="7" textLength="120" lengthAdjust="spacingAndGlyphs">ALKUPERÄISET KUVATEKSTIT</text><circle cx="756" cy="863" r="9"/></g>
<g id="b-suomalaiset"><text x="887" y="942" font-size="11">SUOMALAISET</text><circle cx="887" cy="937" r="12"/></g>
<g id="b-salla"><text x="700" y="1012" font-size="9">SALLA</text><circle cx="700" cy="1008" r="12"/></g>
<g id="b-narva"><text x="726" y="1069" font-size="11">NARVA</text><circle cx="726" cy="1065" r="13"/></g>
<g id="b-itarintama"><text x="766" y="1101" font-size="21" textLength="127" lengthAdjust="spacingAndGlyphs">ITÄRINTAMA</text><circle cx="766" cy="1094" r="22"/></g>
<g id="b-n4"><circle cx="678" cy="1117" r="15"/></g>
<g id="b-karjala"><text x="807" y="1139" font-size="10">KARJALA</text><circle cx="806" cy="1135" r="12"/></g>
</g>
</svg>
